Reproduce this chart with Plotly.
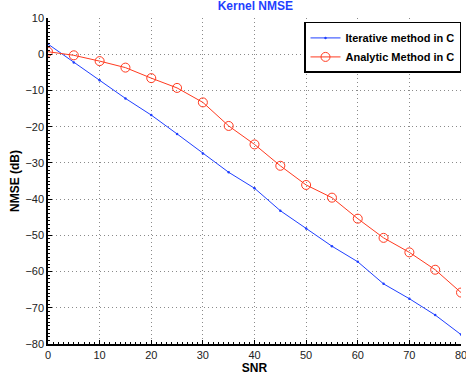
import plotly.graph_objects as go

snr = [0, 5, 10, 15, 20, 25, 30, 35, 40, 45, 50, 55, 60, 65, 70, 75, 80]
iterative = [2.8, -2.3, -7.2, -12.2, -16.8, -22.0, -27.4, -32.6, -37.0, -43.2, -48.1, -53.0, -57.3, -63.4, -67.5, -72.0, -77.4]
analytic = [0.7, -0.3, -1.9, -3.7, -6.6, -9.3, -13.3, -19.8, -24.9, -30.8, -36.1, -39.6, -45.4, -50.7, -54.7, -59.5, -65.8]

x_ticks = [0, 10, 20, 30, 40, 50, 60, 70, 80]
y_ticks = [10, 0, -10, -20, -30, -40, -50, -60, -70, -80]
y_labels = ["10", "0", "\u221210", "\u221220", "\u221230", "\u221240", "\u221250", "\u221260", "\u221270", "\u221280"]

font = "Liberation Sans, Arial, Helvetica, sans-serif"

fig = go.Figure()
fig.add_trace(go.Scatter(
    x=snr, y=iterative, mode="lines+markers", name="<b>Iterative method in C</b>",
    line=dict(color="#1f3fff", width=1), marker=dict(size=2.5, color="#1f3fff")))
fig.add_trace(go.Scatter(
    x=snr, y=analytic, mode="lines+markers", name="<b>Analytic Method in C</b>",
    line=dict(color="#ff3a1f", width=1),
    marker=dict(symbol="circle-open", size=9, color="#ff3a1f", line=dict(width=1))))

axis_common = dict(
    showgrid=True, gridcolor="#8a8a8a", griddash="1px,3px", gridwidth=1,
    showline=True, linecolor="black", linewidth=1.5, zeroline=False,
    ticks="inside", ticklen=4, tickcolor="black",
    tickfont=dict(family=font, size=11, color="#222"),
    ticklabeloverflow="allow", automargin=False,
    minor=dict(ticks="inside", ticklen=2, tickcolor="black", showgrid=False, dtick=1),
)

fig.update_layout(
    width=466, height=377,
    margin=dict(l=48, r=5, t=18, b=33),
    paper_bgcolor="white", plot_bgcolor="white",
    title=dict(text="<b>Kernel NMSE</b>", x=0.548, xanchor="center", y=0.995, yanchor="top",
               font=dict(family=font, size=12, color="#1f3fff")),
    xaxis=dict(range=[0, 80], tickvals=x_ticks, ticktext=[str(v) for v in x_ticks],
               title=dict(text="<b>SNR</b>", font=dict(family=font, size=12, color="black"), standoff=2),
               **axis_common),
    yaxis=dict(range=[-80, 10], tickvals=y_ticks, ticktext=y_labels,
               title=dict(text="<b>NMSE (dB)</b>", font=dict(family=font, size=12, color="black"), standoff=3),
               **axis_common),
    legend=dict(x=1.0, y=0.988, xanchor="right", yanchor="top",
                bgcolor="white", bordercolor="black", borderwidth=1.5,
                font=dict(family=font, size=11, color="black"),
                tracegroupgap=0, itemwidth=30),
    showlegend=True,
)

fig.write_html("out.html", config={"displayModeBar": False},
               post_script="document.body.style.margin='0';document.body.style.padding='0';")
